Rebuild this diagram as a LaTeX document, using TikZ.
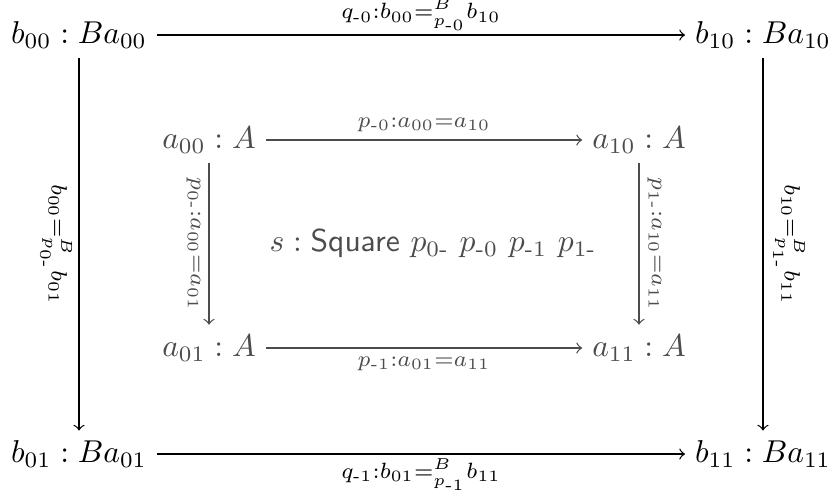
\documentclass[tikz,border=0pt]{standalone}
\usepackage{amsmath}
\definecolor{innergray}{gray}{0.30}
\tikzset{
  obj/.style={inner sep=3pt},
  inobj/.style={obj, text=innergray},
  lbl/.style={inner sep=2.5pt},
  hlbl/.style={inner sep=1.2pt},
  arr/.style={->, line width=0.4pt},
  inarr/.style={arr, draw=innergray},
  inlbl/.style={lbl, text=innergray}
}
\newcommand{\hy}[1]{\text{#1}}
\begin{document}
\begin{tikzpicture}[x=0.3165pt,y=-0.3165pt,>=to]
\useasboundingbox (0,0) rectangle (831,492);
% outer nodes
\node[obj] (b00) at (79,35) {$b_{00} : Ba_{00}$};
\node[obj] (b10) at (763,35) {$b_{10} : Ba_{10}$};
\node[obj] (b01) at (79,454) {$b_{01} : Ba_{01}$};
\node[obj] (b11) at (763,454) {$b_{11} : Ba_{11}$};
% inner nodes
\node[inobj] (a00) at (209,140) {$a_{00} : A$};
\node[inobj] (a10) at (639,140) {$a_{10} : A$};
\node[inobj] (a01) at (209,348) {$a_{01} : A$};
\node[inobj] (a11) at (639,348) {$a_{11} : A$};
\node[text=innergray] (s) at (433,244) {$s : \mathsf{Square}\ p_{\hy{0-}}\ p_{\hy{-0}}\ p_{\hy{-1}}\ p_{\hy{1-}}$};
% outer arrows
\draw[arr] (b00) -- (b10) node[midway, above, hlbl] {$\scriptstyle q_{\hy{-0}}:b_{00} =^{B}_{p_{\hy{-0}}} b_{10}$};
\draw[arr] (b01) -- (b11) node[midway, below, hlbl] {$\scriptstyle q_{\hy{-1}}:b_{01} =^{B}_{p_{\hy{-1}}} b_{11}$};
\draw[arr] (b00) -- (b01) node[midway, lbl, rotate=-90, anchor=north, inner sep=2pt] {$\scriptstyle b_{00} =^{B}_{p_{\hy{0-}}} b_{01}$};
\draw[arr] (b10) -- (b11) node[midway, lbl, rotate=-90, anchor=south, inner sep=3pt] {$\scriptstyle b_{10} =^{B}_{p_{\hy{1-}}} b_{11}$};
% inner arrows
\draw[inarr] (a00) -- (a10) node[midway, above, inlbl] {$\scriptstyle p_{\hy{-0}}:a_{00}=a_{10}$};
\draw[inarr] (a01) -- (a11) node[midway, below, inlbl] {$\scriptstyle p_{\hy{-1}}:a_{01}=a_{11}$};
\draw[inarr] (a00) -- (a01) node[midway, inlbl, rotate=-90, anchor=north] {$\scriptstyle p_{\hy{0-}}:a_{00}=a_{01}$};
\draw[inarr] (a10) -- (a11) node[midway, inlbl, rotate=-90, anchor=south] {$\scriptstyle p_{\hy{1-}}:a_{10}=a_{11}$};
\end{tikzpicture}
\end{document}
